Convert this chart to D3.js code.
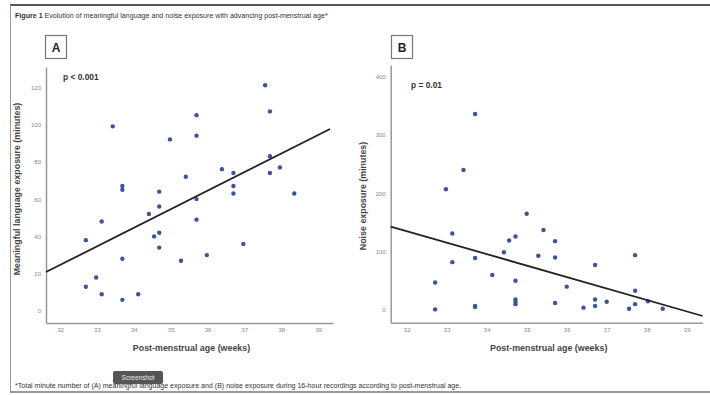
<!DOCTYPE html>
<html>
<head>
<meta charset="utf-8">
<script src="https://cdn.jsdelivr.net/npm/d3@7"></script>
<style>
  body { margin: 0; background: #fff; }
  svg { display: block; font-family: "Liberation Sans", Arial, sans-serif; }
</style>
</head>
<body>
<div id="chart"></div>
<script>
// panel A: meaningful language exposure (minutes) vs post-menstrual age (weeks)
var ageA = [33.43, 37.56, 37.69, 35.70, 35.70, 34.98, 33.69, 33.69, 34.69, 35.41, 36.39, 36.70,
            36.70, 36.70, 37.69, 37.69, 37.96, 38.35, 35.70, 34.69, 34.41, 33.13, 32.70, 35.70,
            34.69, 34.55, 34.69, 36.97, 33.69, 35.28, 35.98, 32.98, 32.70, 33.13, 33.69, 34.12];
var langA = [99, 121, 107, 105, 94, 92, 67, 65, 64, 72, 76, 74,
             67, 63, 83, 74, 77, 63, 60, 56, 52, 48, 38, 49,
             42, 40, 34, 36, 28, 27, 30, 18, 13, 9, 6, 9];
// fitted line (start, end)
var fitA = [[31.62, 20.9], [39.32, 97.6]];

// panel B: noise exposure (minutes)
var ageB = [33.71, 33.42, 32.98, 35.00, 35.42, 33.14, 34.72, 34.56, 35.71, 34.43, 37.71, 35.29,
            35.71, 33.71, 33.14, 36.71, 34.14, 34.72, 32.71, 36.00, 37.71, 36.71, 37.00, 34.72,
            34.72, 34.72, 38.03, 35.71, 33.71, 33.71, 37.71, 36.71, 36.42, 37.56, 38.40, 32.71];
var noiseB = [336, 240, 207, 165, 137, 131, 126, 119, 118, 99, 94, 93,
              90, 89, 82, 77, 60, 50, 47, 40, 33, 18, 14, 18,
              14, 10, 15, 12, 7, 5, 10, 7, 4, 2, 2, 1];
var fitB = [[31.6, 143], [39.4, -10.3]];

var weekTicks = [32, 33, 34, 35, 36, 37, 38, 39];
var langTicks = [0, 20, 40, 60, 80, 100, 120];
var noiseTicks = [0, 100, 200, 300, 400];

var width = 710, height = 395;
var dotColor = "#3b549c";

var svg = d3.select("#chart").append("svg")
    .attr("width", width)
    .attr("height", height);

// frame lines
svg.append("line").attr("x1", 10).attr("x2", 710).attr("y1", 5).attr("y2", 5)
    .attr("stroke", "#555").attr("stroke-width", 2);
svg.append("line").attr("x1", 10.5).attr("x2", 10.5).attr("y1", 5).attr("y2", 392)
    .attr("stroke", "#999").attr("stroke-width", 1);
svg.append("line").attr("x1", 10).attr("x2", 710).attr("y1", 392).attr("y2", 392)
    .attr("stroke", "#777").attr("stroke-width", 1.5);

// title
var title = svg.append("text").attr("x", 15).attr("y", 17.5)
    .attr("font-size", 7.1).attr("fill", "#333");
title.append("tspan").attr("font-weight", "bold").text("Figure 1");
title.append("tspan").text(" Evolution of meaningful language and noise exposure with advancing post-menstrual age*");

// footnote
svg.append("text").attr("x", 15).attr("y", 388)
    .attr("font-size", 7.05).attr("fill", "#333")
    .text("*Total minute number of (A) meaningful language exposure and (B) noise exposure during 16-hour recordings according to post-menstrual age.");

// the "Screenshot" tooltip over the footnote
svg.append("rect").attr("x", 113).attr("y", 371).attr("width", 50).attr("height", 13)
    .attr("rx", 2).attr("fill", "#555");
svg.append("text").attr("x", 138).attr("y", 380).attr("text-anchor", "middle")
    .attr("font-size", 6.5).attr("fill", "#eee").text("Screenshot");

function panel(opt) {
    var x = d3.scaleLinear().domain(opt.xDomain).range(opt.xRange);
    var y = d3.scaleLinear().domain(opt.yDomain).range(opt.yRange);

    var xaxis = d3.axisBottom(x).tickValues(weekTicks).tickSize(0).tickPadding(5);
    var yaxis = d3.axisLeft(y).tickValues(opt.yTicks).tickSize(0).tickPadding(5);

    var gx = svg.append("g")
        .attr("transform", "translate(0," + opt.yRange[0] + ")")
        .call(xaxis);
    var gy = svg.append("g")
        .attr("transform", "translate(" + opt.xRange[0] + ",0)")
        .call(yaxis);
    [gx, gy].forEach(function (g) {
        g.select(".domain").attr("stroke", "#999").attr("stroke-width", 1.5);
        g.selectAll("text").attr("font-size", 6).attr("fill", "#888")
            .attr("font-family", "Liberation Sans, Arial, sans-serif");
    });

    // points
    svg.append("g").selectAll("circle")
        .data(opt.xs)
        .enter()
        .append("circle")
        .attr("cx", function (d) { return x(d); })
        .attr("cy", function (d, i) { return y(opt.ys[i]); })
        .attr("r", 2.2)
        .attr("fill", dotColor);

    // regression line
    svg.append("line")
        .attr("x1", x(opt.fit[0][0])).attr("y1", y(opt.fit[0][1]))
        .attr("x2", x(opt.fit[1][0])).attr("y2", y(opt.fit[1][1]))
        .attr("stroke", "#222").attr("stroke-width", 1.8);

    // panel letter box
    svg.append("rect").attr("x", opt.box[0] + 0.5).attr("y", opt.box[1] + 0.5)
        .attr("width", 21).attr("height", 23)
        .attr("fill", "#fff").attr("stroke", "#777").attr("stroke-width", 1.2);
    svg.append("text").attr("x", opt.box[0] + 11).attr("y", opt.box[1] + 16.5)
        .attr("text-anchor", "middle").attr("font-size", 12).attr("font-weight", "bold")
        .attr("fill", "#222").text(opt.letter);

    // p value
    svg.append("text").attr("x", opt.pPos[0]).attr("y", opt.pPos[1])
        .attr("font-size", 8.4).attr("font-weight", "bold").attr("fill", "#333")
        .text(opt.p);

    // axis titles
    svg.append("text")
        .attr("x", (opt.xRange[0] + opt.xRange[1]) / 2 + 2)
        .attr("y", 350.5)
        .attr("text-anchor", "middle")
        .attr("font-size", 8.9).attr("font-weight", "bold").attr("fill", "#444")
        .text("Post-menstrual age (weeks)");
    svg.append("text")
        .attr("transform", "translate(" + opt.yLabelX + "," + opt.yLabelY + ") rotate(-90)")
        .attr("text-anchor", "middle")
        .attr("font-size", 8.9).attr("font-weight", "bold").attr("fill", "#444")
        .text(opt.yLabel);
}

panel({
    xs: ageA, ys: langA, fit: fitA,
    xDomain: [31.62, 39.4], xRange: [46, 333],
    yDomain: [-6.4, 130.8], yRange: [323, 67],
    yTicks: langTicks,
    letter: "A", box: [45, 35],
    p: "p < 0.001", pPos: [63, 80],
    yLabel: "Meaningful language exposure (minutes)", yLabelX: 19.5, yLabelY: 189
});

panel({
    xs: ageB, ys: noiseB, fit: fitB,
    xDomain: [31.6, 39.4], xRange: [390.7, 702.7],
    yDomain: [-21.8, 420], yRange: [322.7, 65],
    yTicks: noiseTicks,
    letter: "B", box: [391, 35],
    p: "p = 0.01", pPos: [411, 88],
    yLabel: "Noise exposure (minutes)", yLabelX: 365.5, yLabelY: 196
});
</script>
</body>
</html>
